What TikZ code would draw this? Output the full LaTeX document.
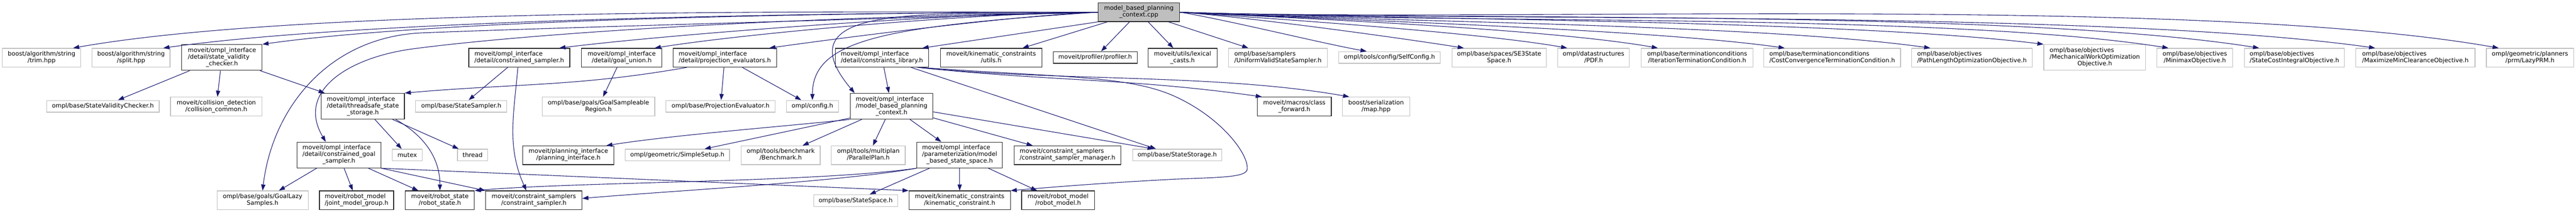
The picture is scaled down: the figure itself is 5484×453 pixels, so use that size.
\documentclass[tikz,border=0pt]{standalone}
\usepackage{fontspec}
\setmainfont{DejaVu Sans}
\usetikzlibrary{arrows.meta}
\definecolor{navy}{HTML}{191970}
\definecolor{lgray}{HTML}{BFBFBF}
\newcommand{\hdrtwo}[2]{\begin{tabular}{@{}l@{}}#1\\\multicolumn{1}{@{}c@{}}{#2}\end{tabular}}
\newcommand{\hdrthree}[3]{\begin{tabular}{@{}l@{}}#1\\#2\\\multicolumn{1}{@{}c@{}}{#3}\end{tabular}}

\begin{document}
\begin{tikzpicture}[x=1pt, y=1pt,
hdr/.style={rectangle, draw=black!85, line width=1.3pt, inner sep=0pt, font=\fontsize{12.9}{14.3}\selectfont},
ext/.style={hdr, draw=lgray},
src/.style={hdr, fill=lgray},
l1/.style={minimum height=25pt},
l2/.style={minimum height=40pt},
l3/.style={minimum height=55pt},
edge/.style={draw=navy, line width=1.2pt, -{Triangle[length=13pt,width=9pt]}}
]
\useasboundingbox (0,0) rectangle (5484,-453);

\node[src, l2, minimum width=173pt](root) at (2424.5,-26) {\hdrtwo{model\_based\_planning}{\_context.cpp}};

\node[ext, l2, minimum width=167pt](trim) at (88.5,-123) {\hdrtwo{boost/algorithm/string}{/trim.hpp}};
\node[ext, l2, minimum width=166pt](split) at (279,-123) {\hdrtwo{boost/algorithm/string}{/split.hpp}};
\node[hdr, l3, minimum width=171pt](svc) at (472.5,-122.5) {\hdrthree{moveit/ompl\_interface}{/detail/state\_validity}{\_checker.h}};
\node[hdr, l2, minimum width=215pt](csamp) at (1105.5,-123) {\hdrtwo{moveit/ompl\_interface}{/detail/constrained\_sampler.h}};
\node[hdr, l2, minimum width=171pt](gunion) at (1323.5,-123) {\hdrtwo{moveit/ompl\_interface}{/detail/goal\_union.h}};
\node[hdr, l2, minimum width=220pt](projev) at (1543,-123) {\hdrtwo{moveit/ompl\_interface}{/detail/projection\_evaluators.h}};
\node[hdr, l2, minimum width=199pt](clib) at (1877.5,-123) {\hdrtwo{moveit/ompl\_interface}{/detail/constraints\_library.h}};
\node[hdr, l2, minimum width=216pt](kcutils) at (2110,-123) {\hdrtwo{moveit/kinematic\_constraints}{/utils.h}};
\node[hdr, l1, minimum width=179pt](profiler) at (2331.5,-122.5) {moveit/profiler/profiler.h};
\node[hdr, l2, minimum width=147pt](lexical) at (2517.5,-123) {\hdrtwo{moveit/utils/lexical}{\_casts.h}};
\node[ext, l2, minimum width=211pt](uvss) at (2720.5,-123) {\hdrtwo{ompl/base/samplers}{/UniformValidStateSampler.h}};
\node[ext, l1, minimum width=216pt](selfcfg) at (2958,-122.5) {ompl/tools/config/SelfConfig.h};
\node[ext, l2, minimum width=201pt](se3) at (3191.5,-123) {\hdrtwo{ompl/base/spaces/SE3State}{Space.h}};
\node[ext, l2, minimum width=153pt](pdf) at (3392.5,-123) {\hdrtwo{ompl/datastructures}{/PDF.h}};
\node[ext, l2, minimum width=238pt](iterterm) at (3613,-123) {\hdrtwo{ompl/base/terminationconditions}{/IterationTerminationCondition.h}};
\node[ext, l2, minimum width=291pt](costconv) at (3900.5,-123) {\hdrtwo{ompl/base/terminationconditions}{/CostConvergenceTerminationCondition.h}};
\node[ext, l2, minimum width=256pt](pathlen) at (4198,-123) {\hdrtwo{ompl/base/objectives}{/PathLengthOptimizationObjective.h}};
\node[ext, l3, minimum width=217pt](mechwork) at (4459.5,-122.5) {\hdrthree{ompl/base/objectives}{/MechanicalWorkOptimization}{Objective.h}};
\node[ext, l2, minimum width=161pt](minimax) at (4672.5,-123) {\hdrtwo{ompl/base/objectives}{/MinimaxObjective.h}};
\node[ext, l2, minimum width=213pt](stcost) at (4884.5,-123) {\hdrtwo{ompl/base/objectives}{/StateCostIntegralObjective.h}};
\node[ext, l2, minimum width=254pt](maxclear) at (5142,-123) {\hdrtwo{ompl/base/objectives}{/MaximizeMinClearanceObjective.h}};
\node[ext, l2, minimum width=186pt](lazyprm) at (5386,-123) {\hdrtwo{ompl/geometric/planners}{/prm/LazyPRM.h}};

\node[ext, l1, minimum width=240pt](svchk) at (219,-226.5) {ompl/base/StateValidityChecker.h};
\node[ext, l2, minimum width=195pt](colcom) at (460.5,-227) {\hdrtwo{moveit/collision\_detection}{/collision\_common.h}};
\node[hdr, l3, minimum width=177pt](tsstore) at (772.5,-226.5) {\hdrthree{moveit/ompl\_interface}{/detail/threadsafe\_state}{\_storage.h}};
\node[ext, l1, minimum width=194pt](ssampler) at (982,-226.5) {ompl/base/StateSampler.h};
\node[ext, l2, minimum width=240pt](gsreg) at (1274,-227) {\hdrtwo{ompl/base/goals/GoalSampleable}{Region.h}};
\node[ext, l1, minimum width=232pt](projeval) at (1534,-226.5) {ompl/base/ProjectionEvaluator.h};
\node[ext, l1, minimum width=111pt](omplcfg) at (1729.5,-226.5) {ompl/config.h};
\node[hdr, l3, minimum width=176pt](mbpc) at (1898,-226.5) {\hdrthree{moveit/ompl\_interface}{/model\_based\_planning}{\_context.h}};
\node[hdr, l2, minimum width=157pt](clsfwd) at (2755.5,-227) {\hdrtwo{moveit/macros/class}{\_forward.h}};
\node[ext, l2, minimum width=143pt](sermap) at (2929.5,-227) {\hdrtwo{boost/serialization}{/map.hpp}};

\node[hdr, l3, minimum width=179pt](cgs) at (721.5,-330.5) {\hdrthree{moveit/ompl\_interface}{/detail/constrained\_goal}{\_sampler.h}};
\node[ext, l1, minimum width=64pt](mutex) at (867,-330.5) {mutex};
\node[ext, l1, minimum width=64pt](thread) at (1006,-330.5) {thread};
\node[hdr, l2, minimum width=194pt](planif) at (1210,-331) {\hdrtwo{moveit/planning\_interface}{/planning\_interface.h}};
\node[ext, l1, minimum width=222pt](simple) at (1442,-330.5) {ompl/geometric/SimpleSetup.h};
\node[ext, l2, minimum width=168pt](bench) at (1662,-331) {\hdrtwo{ompl/tools/benchmark}{/Benchmark.h}};
\node[ext, l2, minimum width=157pt](parplan) at (1848.5,-331) {\hdrtwo{ompl/tools/multiplan}{/ParallelPlan.h}};
\node[hdr, l3, minimum width=182pt](mbss) at (2043,-330.5) {\hdrthree{moveit/ompl\_interface}{/parameterization/model}{\_based\_state\_space.h}};
\node[hdr, l2, minimum width=227pt](csmgr) at (2272.5,-331) {\hdrtwo{moveit/constraint\_samplers}{/constraint\_sampler\_manager.h}};
\node[ext, l1, minimum width=190pt](ststore) at (2506,-330.5) {ompl/base/StateStorage.h};

\node[ext, l2, minimum width=194pt](glazy) at (559,-427) {\hdrtwo{ompl/base/goals/GoalLazy}{Samples.h}};
\node[hdr, l2, minimum width=158pt](jmg) at (759,-427) {\hdrtwo{moveit/robot\_model}{/joint\_model\_group.h}};
\node[hdr, l2, minimum width=147pt](rstate) at (936.5,-427) {\hdrtwo{moveit/robot\_state}{/robot\_state.h}};
\node[hdr, l2, minimum width=205pt](csampler) at (1136.5,-427) {\hdrtwo{moveit/constraint\_samplers}{/constraint\_sampler.h}};
\node[ext, l1, minimum width=179pt](sspace) at (1821.5,-427.5) {ompl/base/StateSpace.h};
\node[hdr, l2, minimum width=216pt](kconstr) at (2043,-427) {\hdrtwo{moveit/kinematic\_constraints}{/kinematic\_constraint.h}};
\node[hdr, l2, minimum width=155pt](rmodel) at (2252.5,-427) {\hdrtwo{moveit/robot\_model}{/robot\_model.h}};

\draw[edge] (root.west) .. controls +(180:513) and +(10:513) .. ([xshift=-17pt]trim.north east);
\draw[edge] (root.west) .. controls +(180:468) and +(8:468) .. ([xshift=-15pt]split.north east);
\draw[edge] (root.west) .. controls +(180:418) and +(8:418) .. (svc.north east);
\draw[edge] (root.west) .. controls +(180:270) and +(7:270) .. ([xshift=-23pt]csamp.north east);
\draw[edge] (root.west) .. controls +(180:223) and +(9:223) .. ([xshift=-16pt]gunion.north east);
\draw[edge] (root.west) .. controls +(182:166) and +(8:166) .. ([xshift=-16pt]projev.north east);
\draw[edge] (root.south west) -- ([xshift=-14pt]clib.north east);
\draw[edge] (root) -- (kcutils);
\draw[edge] (root) -- (profiler);
\draw[edge] (root) -- (lexical);
\draw[edge] (root) -- (uvss);
\draw[edge] (root.east) .. controls +(-9:95) and +(170:95) .. ([xshift=60pt]selfcfg.north west);
\draw[edge] (root.east) .. controls +(-4:143) and +(171:143) .. ([xshift=26pt]se3.north west);
\draw[edge] (root.east) .. controls +(-4:195) and +(170:195) .. ([xshift=21pt]pdf.north west);
\draw[edge] (root.east) .. controls +(-3:240) and +(170:240) .. ([xshift=36pt]iterterm.north west);
\draw[edge] (root.east) .. controls +(-3:303) and +(172:303) .. ([xshift=45pt]costconv.north west);
\draw[edge] (root.east) .. controls +(-3:376) and +(172:376) .. ([xshift=40pt]pathlen.north west);
\draw[edge] (root.east) .. controls +(-2:432) and +(173:432) .. (mechwork.north west);
\draw[edge] (root.east) .. controls +(-3:495) and +(171:495) .. ([xshift=25pt]minimax.north west);
\draw[edge] (root.east) .. controls +(-2:540) and +(171:540) .. ([xshift=32pt]stcost.north west);
\draw[edge] (root.east) .. controls +(-2:598) and +(172:598) .. ([xshift=42pt]maxclear.north west);
\draw[edge] (root.east) .. controls +(-2:660) and +(170:660) .. ([xshift=27pt]lazyprm.north west);
\draw[edge] (root.west) .. controls +(183:277) and +(130:277) .. ([xshift=10pt]mbpc.north west);
\draw[edge] (root.west) .. controls +(-450,-30) and +(0,130) .. (omplcfg.north);
\draw[edge] (root.west) .. controls (1700,-45) and (1150,-60) .. (900,-70) .. controls (700,-78) and (580,-230) .. (glazy.north);
\draw[edge] (root.west) .. controls (1600,-38) and (1100,-75) .. (880,-104) .. controls (740,-122.5) and (630,-195) .. ([xshift=-28pt]cgs.north);

\draw[edge] (svc) -- (svchk);
\draw[edge] (svc) -- (colcom);
\draw[edge] (svc) -- (tsstore);
\draw[edge] (csamp) -- (ssampler);
\draw[edge] ([xshift=-3pt]csamp.south) .. controls +(-95:103) and +(114:103) .. ([xshift=-16pt]csampler.north);
\draw[edge] (gunion) -- (gsreg);
\draw[edge] (projev) -- (projeval);
\draw[edge] (projev) -- (omplcfg);
\draw[edge] ([xshift=30pt]projev.south west) .. controls +(190:237) and +(5:237) .. (tsstore.north east);
\draw[edge] (clib) -- (mbpc);
\draw[edge] (clib) -- ([xshift=-45pt]ststore.north);
\draw[edge] ([xshift=-25pt]clib.south east) .. controls +(-6:288) and +(172:288) .. ([xshift=10pt]clsfwd.north west);
\draw[edge] ([xshift=-22pt]clib.south east) .. controls +(-6:288) and +(170:288) .. ([xshift=15pt]sermap.north west);
\draw[edge] ([xshift=-20pt]clib.south east) .. controls (2250,-165) and (2400,-160) .. (2500,-205) .. controls (2600,-250) and (2660,-330) .. (2655,-362) .. controls (2650,-378) and (2600,-378) .. (2500,-382) .. controls (2350,-390) and (2250,-398) .. (kconstr.north east);

\draw[edge] (tsstore) -- (mutex);
\draw[edge] (tsstore) -- (thread);
\draw[edge] ([xshift=70pt]tsstore.south) .. controls +(-30:70) and +(90:70) .. (rstate.north);

\draw[edge] (mbpc.south west) .. controls +(186:143) and +(9:143) .. ([xshift=-17pt]planif.north east);
\draw[edge] ([yshift=3pt]mbpc.south west) -- ([xshift=58pt]simple.north);
\draw[edge] (mbpc) -- (bench);
\draw[edge] (mbpc) -- (parplan);
\draw[edge] (mbpc) -- (mbss);
\draw[edge] (mbpc) -- (csmgr);
\draw[edge] ([yshift=-12pt]mbpc.east) -- ([xshift=-50pt]ststore.north);

\draw[edge] (cgs) -- (glazy);
\draw[edge] (cgs) -- (jmg);
\draw[edge] (cgs) -- (rstate);
\draw[edge] (cgs.south east) -- (csampler.north west);
\draw[edge] (cgs.south east) -- (kconstr.north west);

\draw[edge] (mbss.south west) .. controls +(188:221) and +(5:221) .. (rstate.north east);
\draw[edge] (mbss.south west) .. controls +(190:168) and +(5:168) .. ([yshift=4pt]csampler.east);
\draw[edge] (mbss) -- (sspace);
\draw[edge] (mbss) -- (kconstr);
\draw[edge] (mbss) -- (rmodel);
\end{tikzpicture}
\end{document}
